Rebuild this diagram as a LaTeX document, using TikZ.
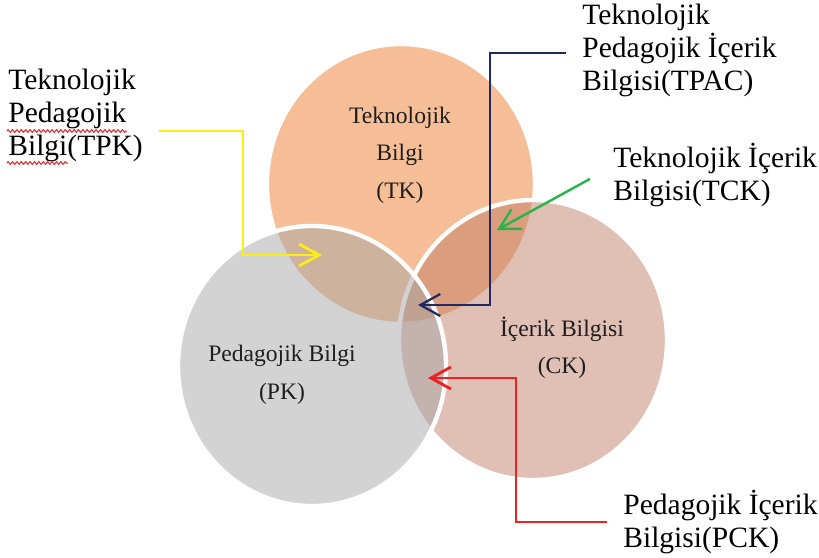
\documentclass[tikz,border=0pt]{standalone}
\usepackage{fontspec}
\setmainfont{Liberation Serif}
\usetikzlibrary{shapes.geometric,arrows.meta,decorations.pathmorphing}

\definecolor{tkfill}{RGB}{245,190,150}
\definecolor{ckfill}{RGB}{193,127,105}
\definecolor{pkfill}{RGB}{167,167,167}
\definecolor{settextcol}{RGB}{30,30,30}
\definecolor{tpkline}{RGB}{250,238,20}
\definecolor{tpacline}{RGB}{31,42,100}
\definecolor{tckline}{RGB}{40,180,75}
\definecolor{pckline}{RGB}{238,32,36}

\begin{document}
\begin{tikzpicture}[x=0.5pt, y=-0.5pt,
  set/.style={ellipse, minimum width=134pt, minimum height=140pt, draw=white, line width=2.2pt},
  settext/.style={align=center, text=settextcol, font=\rmfamily\fontsize{11.8}{18.7}\selectfont},
  callout/.style={align=left, inner xsep=8pt, font=\rmfamily\fontsize{14.75}{16.5}\selectfont},
  link/.style={line width=1.4pt, -{Straight Barb[length=10pt,width=11pt]}},
  spell/.style={pckline, line width=0.5pt, decorate, decoration={zigzag, amplitude=0.7pt, segment length=2.2pt}}]
  \useasboundingbox (0,0) rectangle (819,557);

  \node[set, fill=tkfill] (tk) at (401,184) {};
  \node[set, fill=ckfill, fill opacity=0.5] (ck) at (533,340) {};
  \node[set, fill=pkfill, fill opacity=0.5] (pk) at (312,366) {};

  \node[settext] (tktext) at (400,155) {Teknolojik\\Bilgi\\(TK)};
  \node[settext] (pktext) at (282,375) {Pedagojik Bilgi\\(PK)};
  \node[settext] (cktext) at (562,348) {İçerik Bilgisi\\(CK)};

  \node[callout, anchor=west] (tpk) at (-8,115) {Teknolojik\\Pedagojik\\Bilgi(TPK)};
  \node[callout, anchor=west] (tpac) at (566,50) {Teknolojik\\Pedagojik İçerik\\Bilgisi(TPAC)};
  \node[callout, anchor=west] (tck) at (597,175) {Teknolojik İçerik\\Bilgisi(TCK)};
  \node[callout, anchor=west] (pck) at (607,522) {Pedagojik İçerik\\Bilgisi(PCK)};

  \coordinate (tpkbend) at (243,255);
  \coordinate (tpktip) at (322,255);
  \coordinate (tpacbend) at (490,305);
  \coordinate (tpactip) at (418,305);
  \coordinate (tcktip) at (497,230);
  \coordinate (pckbend) at (516,378);
  \coordinate (pcktip) at (428,378);

  \draw[link, tpkline] ([yshift=-8pt]tpk.east) -| (tpkbend) -- (tpktip);
  \draw[link, tpacline, line width=1.1pt] ([yshift=-1.5pt]tpac.west) -| (tpacbend) -- (tpactip);
  \draw[link, tckline, line width=1.2pt, shorten <=4pt] (tck.west) -- (tcktip);
  \draw[link, pckline] (pck.west) -| (pckbend) -- (pcktip);

  \draw[spell] (7,131) -- (127,131);
  \draw[spell] (7,163) -- (68,163);
\end{tikzpicture}
\end{document}
